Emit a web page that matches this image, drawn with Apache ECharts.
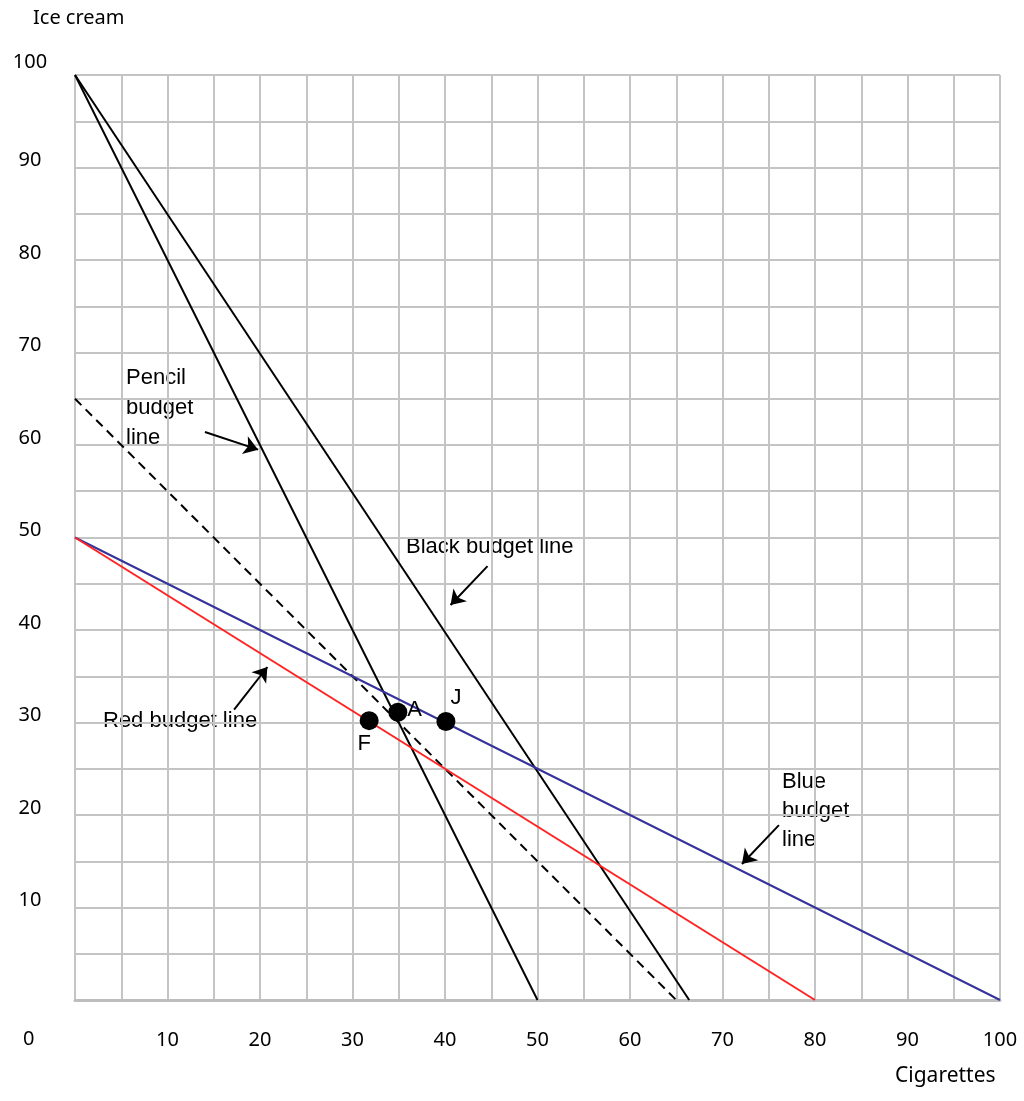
<!DOCTYPE html>
<html>
<head>
<meta charset="utf-8">
<script src="https://cdn.jsdelivr.net/npm/echarts@6/dist/echarts.min.js"></script>
<style>html,body{margin:0;padding:0;background:#fff}#c{width:1024px;height:1101px}</style>
</head>
<body>
<div id="c"></div>
<script>
// Budget lines (x = cigarettes, y = ice cream)
const blackSteep = [[0, 100], [50, 0]];
const blackBudget = [[0, 100], [66.4, 0]];
const pencilBudget = [[0, 65], [65, 0]];
const blueBudget = [[0, 50], [100, 0]];
const redBudget = [[0, 50], [80, 0]];
// Points
const pointNames = ['F', 'A', 'J'];
const pointValues = [[31.8, 30.2], [34.9, 31.1], [40.1, 30.1]];
// Annotation arrows [from, to]
const arrows = [
  [[14.05, 61.4], [19.8, 59.5]],
  [[44.6, 46.9], [40.6, 42.7]],
  [[17.2, 31.4], [20.8, 36.0]],
  [[76.1, 18.9], [72.1, 14.7]]
];
const tickLabels = [10, 20, 30, 40, 50, 60, 70, 80, 90, 100];

const chart = echarts.init(document.getElementById('c'));
const font = 'Noto Sans';
const annFont = 'Liberation Sans';
const gridColor = '#c4c4c4';

function fmt(v) { return tickLabels.indexOf(v) >= 0 ? String(v) : ''; }
function fmtY(v) {
  if (tickLabels.indexOf(v) < 0) return '';
  return v === 100 ? '{hi|' + v + '}' : String(v);
}

const pointLabelPos = {
  F: { position: 'bottom', offset: [-5, -2] },
  A: { position: 'right', offset: [-5, -2] },
  J: { position: 'top', offset: [10, 2] }
};

chart.setOption({
  animation: false,
  backgroundColor: '#fff',
  grid: { left: 75, top: 75, width: 925, height: 925, containLabel: false },
  xAxis: {
    type: 'value', min: 0, max: 100, interval: 5,
    axisLine: { show: true, lineStyle: { color: '#bdbdbd', width: 3 } },
    axisTick: { show: false },
    splitLine: { show: true, lineStyle: { color: gridColor, width: 2 } },
    axisLabel: { formatter: fmt, margin: 30, color: '#000', fontFamily: font, fontSize: 20 }
  },
  yAxis: {
    type: 'value', min: 0, max: 100, interval: 5,
    axisLine: { show: false },
    axisTick: { show: false },
    splitLine: { show: true, lineStyle: { color: gridColor, width: 2 } },
    axisLabel: {
      formatter: fmtY, margin: 45, align: 'center', verticalAlign: 'bottom', lineHeight: 14,
      color: '#000', fontFamily: font, fontSize: 20,
      rich: { hi: { fontFamily: font, fontSize: 20, color: '#000', lineHeight: 14, padding: [0, 0, 12, 0] } }
    }
  },
  graphic: [
    { type: 'text', left: 33, top: 8, style: { text: 'Ice cream', fontFamily: font, fontSize: 20, fill: '#000' } },
    { type: 'text', left: 895, top: 1066, style: { text: 'Cigarettes', fontFamily: font, fontSize: 21, fill: '#000' } },
    { type: 'text', left: 23, top: 1029, style: { text: '0', fontFamily: font, fontSize: 20, fill: '#000' } },
    { type: 'text', left: 126, top: 363, style: { text: 'Pencil\nbudget\nline', fontFamily: annFont, fontSize: 22, lineHeight: 30, fill: '#000' } },
    { type: 'text', left: 406, top: 536, style: { text: 'Black budget line', fontFamily: annFont, fontSize: 22, fill: '#000' } },
    { type: 'text', left: 103, top: 710, style: { text: 'Red budget line', fontFamily: annFont, fontSize: 22, fill: '#000' } },
    { type: 'text', left: 782, top: 767, style: { text: 'Blue\nbudget\nline', fontFamily: annFont, fontSize: 22, lineHeight: 29, fill: '#000' } }
  ],
  series: [
    { type: 'line', data: blackSteep, symbol: 'none', lineStyle: { color: '#000', width: 2 }, z: 3 },
    { type: 'line', data: blackBudget, symbol: 'none', lineStyle: { color: '#000', width: 2 }, z: 3 },
    { type: 'line', data: pencilBudget, symbol: 'none', lineStyle: { color: '#000', width: 2, type: [9, 6] }, z: 3 },
    { type: 'line', data: blueBudget, symbol: 'none', lineStyle: { color: '#333399', width: 2 }, z: 3 },
    { type: 'line', data: redBudget, symbol: 'none', lineStyle: { color: '#ff2222', width: 2 }, z: 3 },
    {
      type: 'lines', coordinateSystem: 'cartesian2d', z: 4,
      symbol: ['none', 'arrow'], symbolSize: 14,
      lineStyle: { color: '#000', width: 2, opacity: 1 },
      data: arrows.map(a => ({ coords: a }))
    },
    {
      type: 'scatter', z: 5, symbol: 'circle', symbolSize: 19,
      itemStyle: { color: '#000', opacity: 1 },
      data: pointValues.map((v, i) => ({
        value: v, name: pointNames[i],
        label: {
          show: true, formatter: pointNames[i], color: '#000', fontFamily: annFont, fontSize: 22,
          position: pointLabelPos[pointNames[i]].position, offset: pointLabelPos[pointNames[i]].offset
        }
      }))
    }
  ]
});
</script>
</body>
</html>
